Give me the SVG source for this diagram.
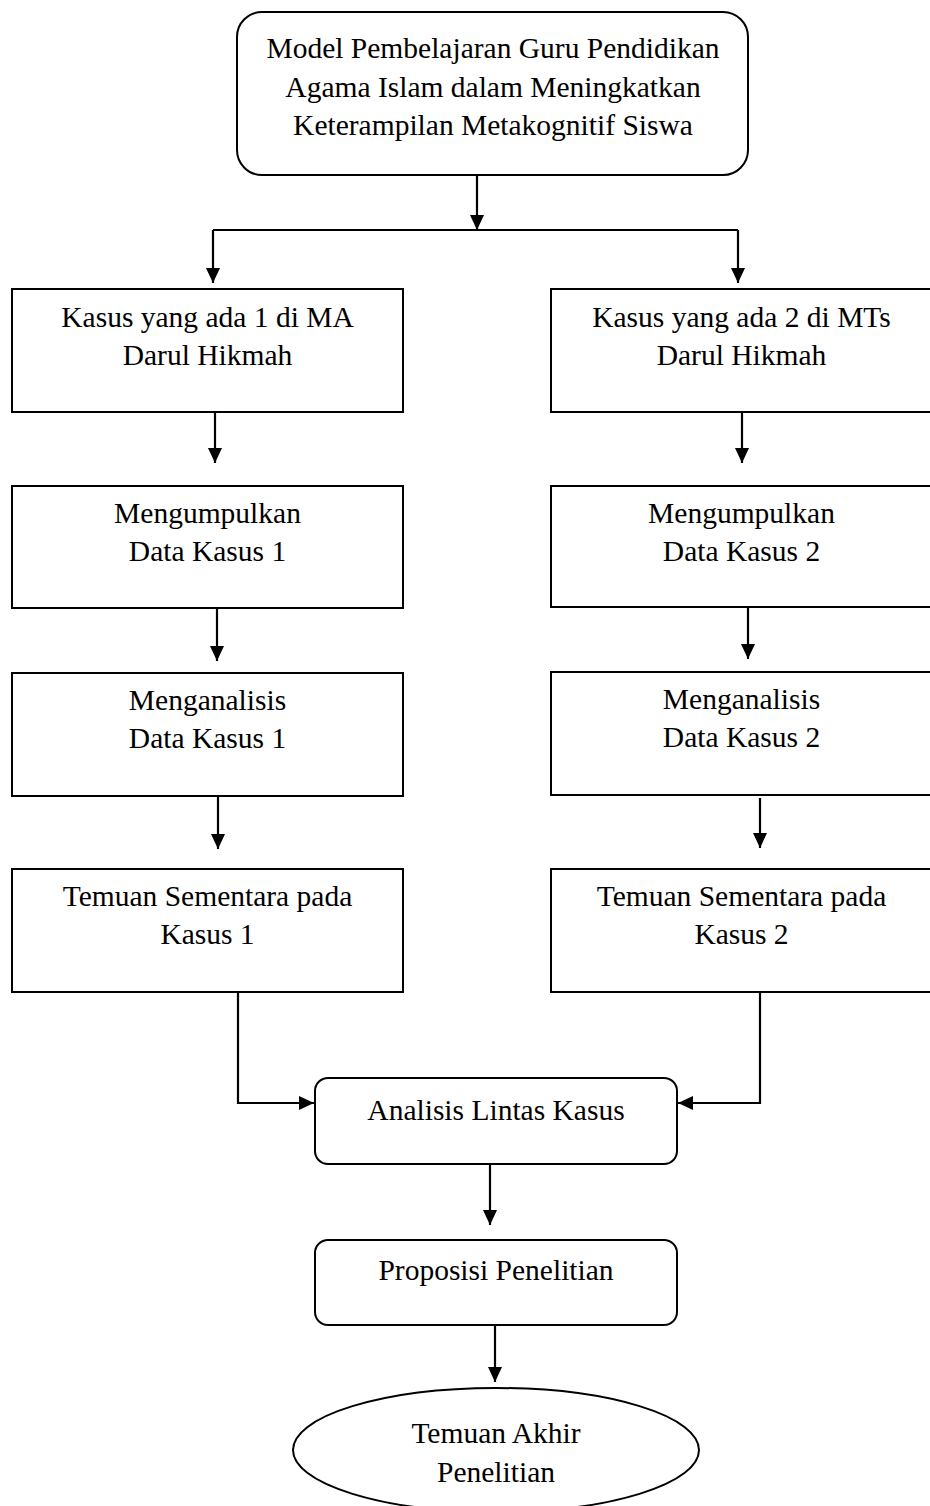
<svg xmlns="http://www.w3.org/2000/svg" width="930" height="1506" viewBox="0 0 930 1506">
<style>
.box{fill:#fff;stroke:#000;stroke-width:2}
.t{font-family:"Liberation Serif","Times New Roman",serif;font-size:29.5px;fill:#000;text-anchor:middle}
.c{fill:none;stroke:#000;stroke-width:2.2}
</style>
<defs>
<marker id="ah" viewBox="0 0 15 14" refX="15" refY="7" markerWidth="15" markerHeight="14" markerUnits="userSpaceOnUse" orient="auto">
<path d="M0,0 L15,7 L0,14 z" fill="#000"/>
</marker>
</defs>
<rect width="930" height="1506" fill="#fff"/>
<g id="connectors">
<path class="c" d="M477,175 V230" marker-end="url(#ah)"/>
<path class="c" d="M213,230 H738"/>
<path class="c" d="M213,230 V283" marker-end="url(#ah)"/>
<path class="c" d="M738,230 V283" marker-end="url(#ah)"/>
<path class="c" d="M215,412 V463" marker-end="url(#ah)"/>
<path class="c" d="M217,608 V661" marker-end="url(#ah)"/>
<path class="c" d="M218,796 V849" marker-end="url(#ah)"/>
<path class="c" d="M742,412 V463" marker-end="url(#ah)"/>
<path class="c" d="M748,607 V659" marker-end="url(#ah)"/>
<path class="c" d="M760,798 V848" marker-end="url(#ah)"/>
<path class="c" d="M238,992 V1103 H314" marker-end="url(#ah)"/>
<path class="c" d="M760,992 V1103 H678" marker-end="url(#ah)"/>
<path class="c" d="M490,1164 V1225" marker-end="url(#ah)"/>
<path class="c" d="M495,1325 V1382" marker-end="url(#ah)"/>
</g>
<g id="n-model">
<rect class="box" x="237" y="12" width="511" height="163" rx="25"/>
<text class="t" x="493" y="58">Model Pembelajaran Guru Pendidikan</text>
<text class="t" x="493" y="97">Agama Islam dalam Meningkatkan</text>
<text class="t" x="493" y="135">Keterampilan Metakognitif Siswa</text>
</g>
<g id="n-kasus1">
<rect class="box" x="12" y="289" width="391" height="123"/>
<text class="t" x="207.5" y="327">Kasus yang ada 1 di MA</text>
<text class="t" x="207.5" y="365">Darul Hikmah</text>
</g>
<g id="n-kumpul1">
<rect class="box" x="12" y="486" width="391" height="122"/>
<text class="t" x="207.5" y="523">Mengumpulkan</text>
<text class="t" x="207.5" y="561">Data Kasus 1</text>
</g>
<g id="n-analisis1">
<rect class="box" x="12" y="673" width="391" height="123"/>
<text class="t" x="207.5" y="710">Menganalisis</text>
<text class="t" x="207.5" y="748">Data Kasus 1</text>
</g>
<g id="n-temuan1">
<rect class="box" x="12" y="869" width="391" height="123"/>
<text class="t" x="207.5" y="906">Temuan Sementara pada</text>
<text class="t" x="207.5" y="944">Kasus 1</text>
</g>
<g id="n-kasus2">
<rect class="box" x="551" y="289" width="381" height="123"/>
<text class="t" x="741.5" y="327">Kasus yang ada 2 di MTs</text>
<text class="t" x="741.5" y="365">Darul Hikmah</text>
</g>
<g id="n-kumpul2">
<rect class="box" x="551" y="486" width="381" height="121"/>
<text class="t" x="741.5" y="523">Mengumpulkan</text>
<text class="t" x="741.5" y="561">Data Kasus 2</text>
</g>
<g id="n-analisis2">
<rect class="box" x="551" y="672" width="381" height="123"/>
<text class="t" x="741.5" y="709">Menganalisis</text>
<text class="t" x="741.5" y="747">Data Kasus 2</text>
</g>
<g id="n-temuan2">
<rect class="box" x="551" y="869" width="381" height="123"/>
<text class="t" x="741.5" y="906">Temuan Sementara pada</text>
<text class="t" x="741.5" y="944">Kasus 2</text>
</g>
<g id="n-lintas">
<rect class="box" x="315" y="1078" width="362" height="86" rx="13"/>
<text class="t" x="496" y="1120">Analisis Lintas Kasus</text>
</g>
<g id="n-proposisi">
<rect class="box" x="315" y="1240" width="362" height="85" rx="13"/>
<text class="t" x="496" y="1280">Proposisi Penelitian</text>
</g>
<g id="n-akhir">
<ellipse class="box" cx="496" cy="1450" rx="203" ry="62"/>
<text class="t" x="496" y="1443">Temuan Akhir</text>
<text class="t" x="496" y="1482">Penelitian</text>
</g>
</svg>
